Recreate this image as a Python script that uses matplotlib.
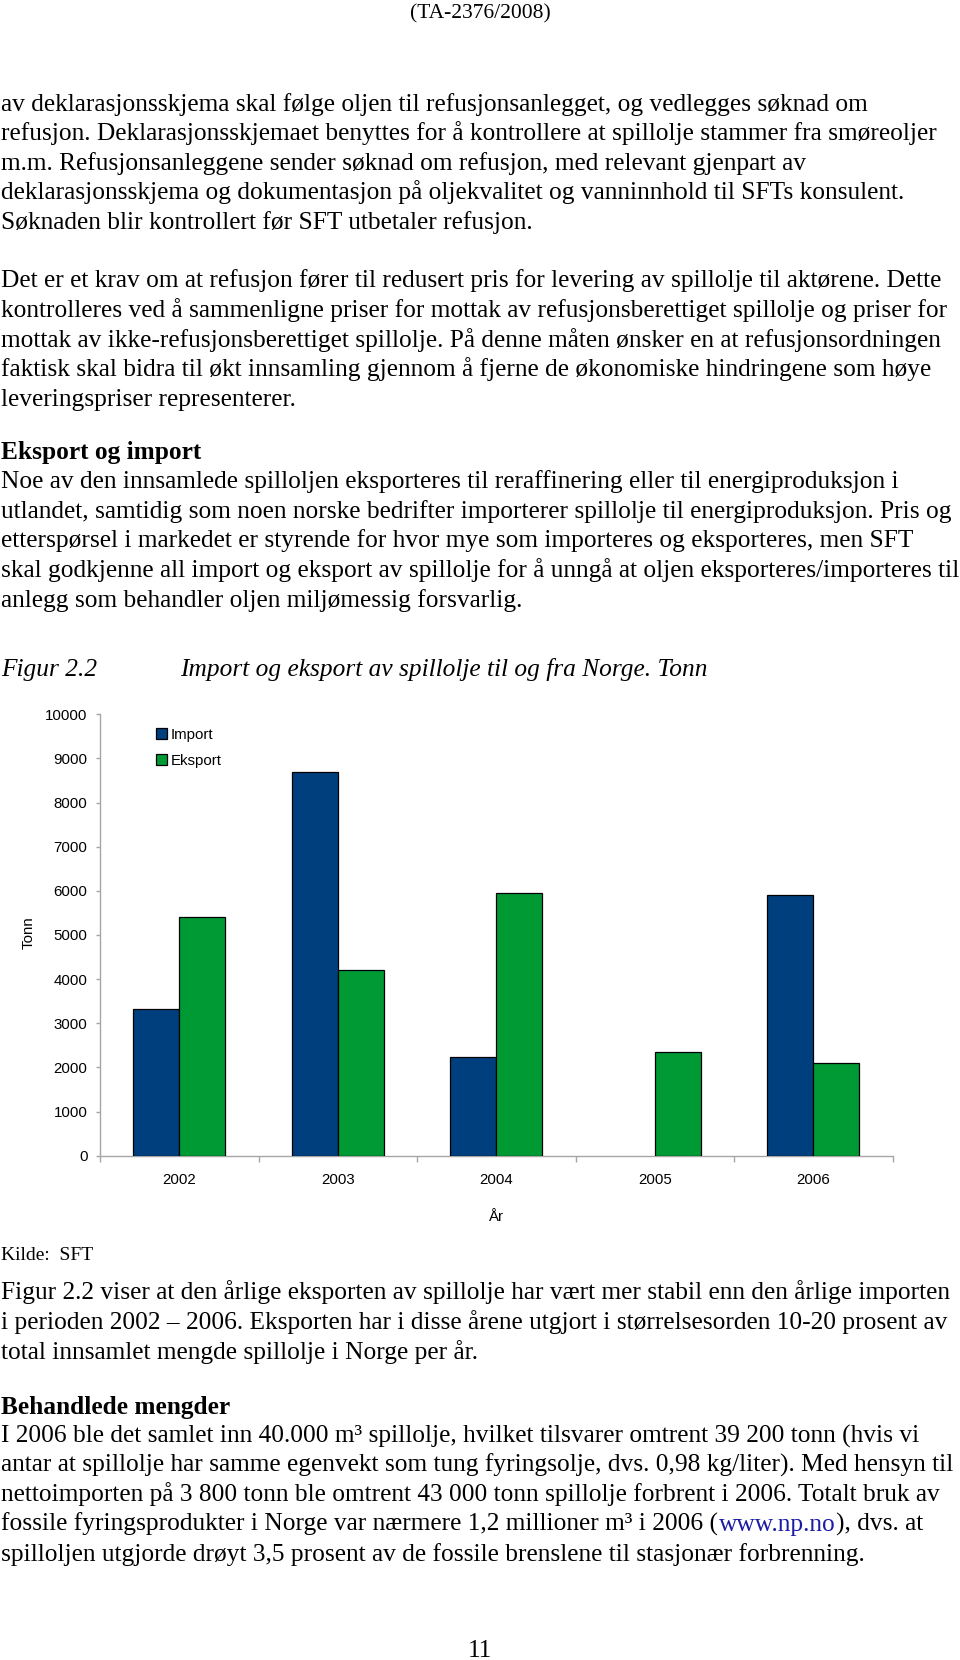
import matplotlib
matplotlib.use('Agg')
import matplotlib.pyplot as plt
import numpy as np

# ---------------- data ----------------
years = ['2002', '2003', '2004', '2005', '2006']
import_t = [3330, 8700, 2240, None, 5900]
eksport_t = [5400, 4200, 5950, 2350, 2100]
yticks = list(range(0, 10001, 1000))
series_names = ['Import', 'Eksport']

# ---------------- page text ----------------
header = "(TA-2376/2008)"
para1 = [
    "av deklarasjonsskjema skal følge oljen til refusjonsanlegget, og vedlegges søknad om",
    "refusjon. Deklarasjonsskjemaet benyttes for å kontrollere at spillolje stammer fra smøreoljer",
    "m.m. Refusjonsanleggene sender søknad om refusjon, med relevant gjenpart av",
    "deklarasjonsskjema og dokumentasjon på oljekvalitet og vanninnhold til SFTs konsulent.",
    "Søknaden blir kontrollert før SFT utbetaler refusjon.",
]
para2 = [
    "Det er et krav om at refusjon fører til redusert pris for levering av spillolje til aktørene. Dette",
    "kontrolleres ved å sammenligne priser for mottak av refusjonsberettiget spillolje og priser for",
    "mottak av ikke-refusjonsberettiget spillolje. På denne måten ønsker en at refusjonsordningen",
    "faktisk skal bidra til økt innsamling gjennom å fjerne de økonomiske hindringene som høye",
    "leveringspriser representerer.",
]
head3 = "Eksport og import"
para3 = [
    "Noe av den innsamlede spilloljen eksporteres til reraffinering eller til energiproduksjon i",
    "utlandet, samtidig som noen norske bedrifter importerer spillolje til energiproduksjon. Pris og",
    "etterspørsel i markedet er styrende for hvor mye som importeres og eksporteres, men SFT",
    "skal godkjenne all import og eksport av spillolje for å unngå at oljen eksporteres/importeres til",
    "anlegg som behandler oljen miljømessig forsvarlig.",
]
fig_no = "Figur 2.2"
fig_title = "Import og eksport av spillolje til og fra Norge. Tonn"
source = "Kilde:  SFT"
para4 = [
    "Figur 2.2 viser at den årlige eksporten av spillolje har vært mer stabil enn den årlige importen",
    "i perioden 2002 – 2006. Eksporten har i disse årene utgjort i størrelsesorden 10-20 prosent av",
    "total innsamlet mengde spillolje i Norge per år.",
]
head5 = "Behandlede mengder"
para5 = [
    "I 2006 ble det samlet inn 40.000 m³ spillolje, hvilket tilsvarer omtrent 39 200 tonn (hvis vi",
    "antar at spillolje har samme egenvekt som tung fyringsolje, dvs. 0,98 kg/liter). Med hensyn til",
    "nettoimporten på 3 800 tonn ble omtrent 43 000 tonn spillolje forbrent i 2006. Totalt bruk av",
    None,
    "spilloljen utgjorde drøyt 3,5 prosent av de fossile brenslene til stasjonær forbrenning.",
]
para5_link_line = ["fossile fyringsprodukter i Norge var nærmere 1,2 millioner m³ i 2006 (",
                   "www.np.no", "), dvs. at"]
page_no = "11"

# ---------------- figure ----------------
W, H = 960, 1660
fig = plt.figure(figsize=(W / 100, H / 100), dpi=100)
fig.patch.set_facecolor('white')

SERIF = ['Liberation Serif', 'DejaVu Serif']
SANS = ['Liberation Sans', 'DejaVu Sans']
BODY = 18.3
LS = 29.6
X0 = 1


def fx(x):
    return x / W


def fy(y):
    return 1 - y / H


def put(x, y, s, size=BODY, **kw):
    return fig.text(fx(x), fy(y), s, fontsize=size, family=SERIF,
                    va='baseline', ha=kw.pop('ha', 'left'), **kw)


def block(y0, lines):
    for i, s in enumerate(lines):
        if s is not None:
            put(X0, y0 + i * LS, s)


put(480, 18, header, size=15.5, ha='center')
block(110.7, para1)
block(287.4, para2)
put(X0, 459.0, head3, weight='bold')
block(488.3, para3)
put(X0, 675.5, fig_no, style='italic')
put(180, 675.5, fig_title, style='italic')
put(X0, 1260, source, size=14)
block(1299.3, para4)
put(X0, 1413.6, head5, weight='bold')
block(1442.1, para5)
# line with link
renderer = fig.canvas.get_renderer()
xcur = X0
ylink = 1442.1 + 3 * LS
for s, c in zip(para5_link_line, ['black', '#1a1aa6', 'black']):
    t = put(xcur, ylink, s, color=c)
    bb = t.get_window_extent(renderer=renderer)
    xcur = bb.x1 + 0.5
put(480, 1657, page_no, ha='center')

# ---------------- chart ----------------
NAVY = '#003F7D'
GREEN = '#009A35'
GRAY = '#A6A6A6'
TFS = 10.8

left, right, top, bottom = 100, 892.5, 714.3, 1155.7
ax = fig.add_axes([fx(left), fy(bottom), (right - left) / W, (bottom - top) / H])

x = np.arange(len(years))
bw = 0.29
imp_x = [x[i] - bw / 2 for i, v in enumerate(import_t) if v is not None]
imp_v = [v for v in import_t if v is not None]
ax.bar(imp_x, imp_v, width=bw, color=NAVY, edgecolor='black', linewidth=0.9,
       label=series_names[0], zorder=3)
ax.bar(x + bw / 2, eksport_t, width=bw, color=GREEN, edgecolor='black', linewidth=0.9,
       label=series_names[1], zorder=3)

ax.set_xlim(-0.5, len(years) - 0.5)
ax.set_ylim(0, 10000)
ax.set_yticks(yticks)
ax.set_yticklabels([str(v) for v in yticks], family=SANS, fontsize=TFS)
ax.set_xticks(np.arange(-0.5, len(years), 1))
ax.set_xticklabels([])
ax.set_xticks(x, minor=True)
ax.set_xticklabels(years, minor=True, family=SANS, fontsize=TFS)

for sp in ['top', 'right']:
    ax.spines[sp].set_visible(False)
for sp in ['left', 'bottom']:
    ax.spines[sp].set_color(GRAY)
    ax.spines[sp].set_linewidth(1.0)

ax.tick_params(axis='y', which='major', direction='out', length=3, width=1,
               color=GRAY, pad=6, labelcolor='black')
ax.tick_params(axis='x', which='major', direction='out', length=4.3, width=1,
               color=GRAY)
ax.tick_params(axis='x', which='minor', length=0, pad=12.5, labelcolor='black')

ax.set_xlabel('År', family=SANS, fontsize=TFS, va='center')
ax.xaxis.set_label_coords(0.5, (bottom - 1217) / (bottom - top))
ax.set_ylabel('Tonn', family=SANS, fontsize=TFS, va='center')
ax.yaxis.set_label_coords((29 - left) / (right - left), (bottom - 933) / (bottom - top))

ax.legend(loc='upper left', bbox_to_anchor=((156 - left) / (right - left), (bottom - 728) / (bottom - top)),
          frameon=False, borderpad=0, borderaxespad=0, handlelength=0.7, handleheight=0.7,
          handletextpad=0.3, labelspacing=0.78, prop={'family': 'Liberation Sans', 'size': TFS})

fig.savefig('out.png', dpi=100, facecolor='white')
